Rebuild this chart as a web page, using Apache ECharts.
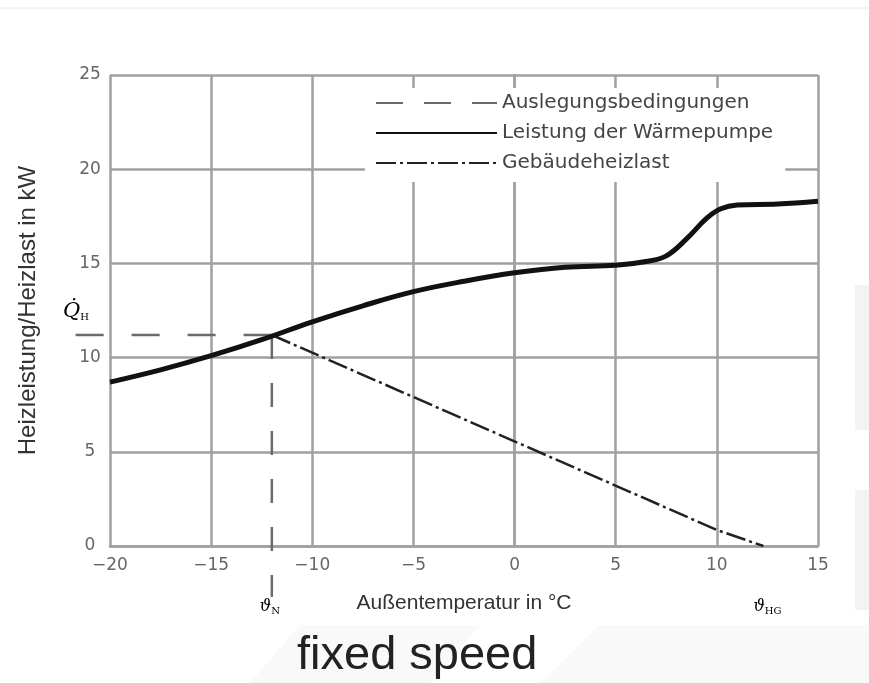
<!DOCTYPE html>
<html>
<head>
<meta charset="utf-8">
<script src="https://cdn.jsdelivr.net/npm/echarts@6/dist/echarts.min.js"></script>
<style>
  html, body { margin: 0; background: #fff; }
  #chart { width: 869px; height: 683px; }
</style>
</head>
<body>
<div id="chart"></div>
<script>
// Achsen
const xTicks = [-20, -15, -10, -5, 0, 5, 10, 15];
const yTicks = [0, 5, 10, 15, 20, 25];

// Leistung der Wärmepumpe
const pumpTemps = [-20, -17.5, -15, -12.5, -10, -7.5, -5, -2.5, 0, 2.5, 5, 6.5, 7.5, 8.5, 9.5, 10.2, 11, 13, 15];
const pumpPower = [8.7, 9.35, 10.1, 10.95, 11.9, 12.75, 13.5, 14.05, 14.5, 14.8, 14.9, 15.1, 15.4, 16.3, 17.4, 17.9, 18.1, 18.15, 18.3];

// Gebäudeheizlast
const loadTemps = [-12, 10, 12.3];
const loadPower = [11.2, 0.85, 0];

// Auslegungsbedingungen: Q_H waagerecht, Norm-Außentemperatur senkrecht (ragen über die Achsen hinaus)
const designHTemps = [-21.7, -12];
const designHPower = [11.2, 11.2];
const designVTemps = [-12, -12];
const designVPower = [11.2, -2.7];

const zip = (a, b) => a.map((v, i) => [v, b[i]]);
const gridColor = '#a0a0a0';
const dashColor = '#6a6a6a';

const chart = echarts.init(document.getElementById('chart'));

const option = {
  backgroundColor: '#fff',
  animation: false,
  grid: { left: 110, right: 51, top: 75, bottom: 137 },
  legend: {
    orient: 'vertical',
    left: 365,
    top: 88,
    padding: [5, 12, 9, 10],
    itemWidth: 121,
    itemHeight: 14,
    itemGap: 10,
    backgroundColor: '#fff',
    itemStyle: { opacity: 0 },
    textStyle: { fontFamily: 'DejaVu Sans', fontSize: 20, lineHeight: 18, color: '#444' },
    data: [
      { name: 'Auslegungsbedingungen', lineStyle: { type: [27, 21] } },
      'Leistung der Wärmepumpe',
      'Gebäudeheizlast'
    ]
  },
  xAxis: {
    type: 'value',
    min: xTicks[0],
    max: xTicks[xTicks.length - 1],
    interval: 5,
    name: 'Außentemperatur in °C',
    nameLocation: 'middle',
    nameGap: 47,
    nameTextStyle: { fontFamily: 'Liberation Sans', fontSize: 21, color: '#333' },
    axisLine: { lineStyle: { color: gridColor, width: 2.5 } },
    axisTick: { show: false },
    splitLine: { lineStyle: { color: gridColor, width: 2.5 } },
    axisLabel: {
      margin: 11,
      fontFamily: 'DejaVu Sans',
      fontSize: 17,
      color: '#666',
      formatter: v => String(v).replace('-', '\u2212')
    }
  },
  yAxis: {
    type: 'value',
    min: yTicks[0],
    max: yTicks[yTicks.length - 1],
    interval: 5,
    name: 'Heizleistung/Heizlast in kW',
    nameLocation: 'middle',
    nameGap: 70,
    nameTextStyle: { fontFamily: 'Liberation Sans', fontSize: 24, color: '#333' },
    axisLine: { show: true, lineStyle: { color: gridColor, width: 2.5 } },
    axisTick: { show: false },
    splitLine: { lineStyle: { color: gridColor, width: 2.5 } },
    axisLabel: {
      margin: 20,
      align: 'center',
      fontFamily: 'DejaVu Sans',
      fontSize: 17,
      color: '#666'
    }
  },
  series: [
    {
      name: 'Auslegungsbedingungen',
      type: 'line',
      data: zip(designHTemps, designHPower),
      symbol: 'none',
      symbolSize: 0,
      clip: false,
      z: 3,
      lineStyle: { color: dashColor, width: 2.5, type: [28, 28] }
    },
    {
      name: 'Auslegungsbedingungen',
      type: 'line',
      data: zip(designVTemps, designVPower),
      symbol: 'none',
      symbolSize: 0,
      clip: false,
      z: 3,
      lineStyle: { color: dashColor, width: 2.5, type: [24, 24] }
    },
    {
      name: 'Leistung der Wärmepumpe',
      type: 'line',
      data: zip(pumpTemps, pumpPower),
      smooth: 0.4,
      symbol: 'none',
      symbolSize: 0,
      z: 4,
      lineStyle: { color: '#111', width: 5 }
    },
    {
      name: 'Gebäudeheizlast',
      type: 'line',
      data: zip(loadTemps, loadPower),
      symbol: 'none',
      symbolSize: 0,
      z: 3,
      lineStyle: { color: '#222', width: 2.5, type: [20, 4, 3, 4] }
    }
  ]
};

chart.setOption(option);

// Beschriftungen an den Auslegungspunkten
const pN = chart.convertToPixel({ gridIndex: 0 }, [designVTemps[0], 0]);
const pHG = chart.convertToPixel({ gridIndex: 0 }, [loadTemps[loadTemps.length - 1], 0]);
const pQ = chart.convertToPixel({ gridIndex: 0 }, [xTicks[0], designHPower[0]]);
// Stück der Q_H-Linie links der y-Achse (wird von der Serie nicht gezeichnet)
const pStub = chart.convertToPixel({ gridIndex: 0 }, [designHTemps[0], designHPower[0]]);

const mathRich = {
  v: { fontFamily: 'DejaVu Serif', fontStyle: 'italic', fontSize: 16, color: '#555' },
  s: { fontFamily: 'DejaVu Serif', fontSize: 10, color: '#555', verticalAlign: 'bottom', padding: [8, 0, 0, 0] }
};

chart.setOption({
  graphic: [
    { type: 'line', shape: { x1: 0, y1: 8, x2: 869, y2: 8 }, style: { stroke: '#e8e8e8', lineWidth: 1 }, silent: true },
    { type: 'rect', shape: { x: 855, y: 285, width: 14, height: 145 }, style: { fill: '#f3f3f3' }, silent: true, z: -10 },
    { type: 'rect', shape: { x: 855, y: 490, width: 14, height: 120 }, style: { fill: '#f3f3f3' }, silent: true, z: -10 },
    { type: 'polygon', shape: { points: [[250, 683], [300, 625], [480, 625], [430, 683]] }, style: { fill: '#f9f9f9' }, silent: true, z: -10 },
    { type: 'polygon', shape: { points: [[540, 683], [600, 625], [869, 625], [869, 683]] }, style: { fill: '#f9f9f9' }, silent: true, z: -10 },
    {
      type: 'line', silent: true, z: 5,
      shape: { x1: pStub[0], y1: pStub[1], x2: pQ[0], y2: pQ[1] },
      style: { stroke: dashColor, lineWidth: 2.5, lineDash: [28, 28] }
    },
    {
      type: 'text', x: pN[0] - 12, y: pN[1] + 52,
      style: { text: '{v|ϑ}{s|N}', rich: mathRich }
    },
    {
      type: 'text', x: pHG[0] - 10, y: pHG[1] + 52,
      style: { text: '{v|ϑ}{s|HG}', rich: mathRich }
    },
    {
      type: 'text', x: pQ[0] - 47, y: pQ[1] - 34,
      style: {
        text: '{v|Q\u0307}{s|H}',
        rich: {
          v: { fontFamily: 'DejaVu Serif', fontStyle: 'italic', fontSize: 21, color: '#555' },
          s: { fontFamily: 'DejaVu Serif', fontSize: 10, color: '#555', verticalAlign: 'bottom', padding: [10, 0, 0, 0] }
        }
      }
    },
    {
      type: 'text', x: 297, y: 633,
      style: { text: 'fixed speed', fontFamily: 'Liberation Sans', fontSize: 47, fill: '#222' }
    }
  ]
});
</script>
</body>
</html>
